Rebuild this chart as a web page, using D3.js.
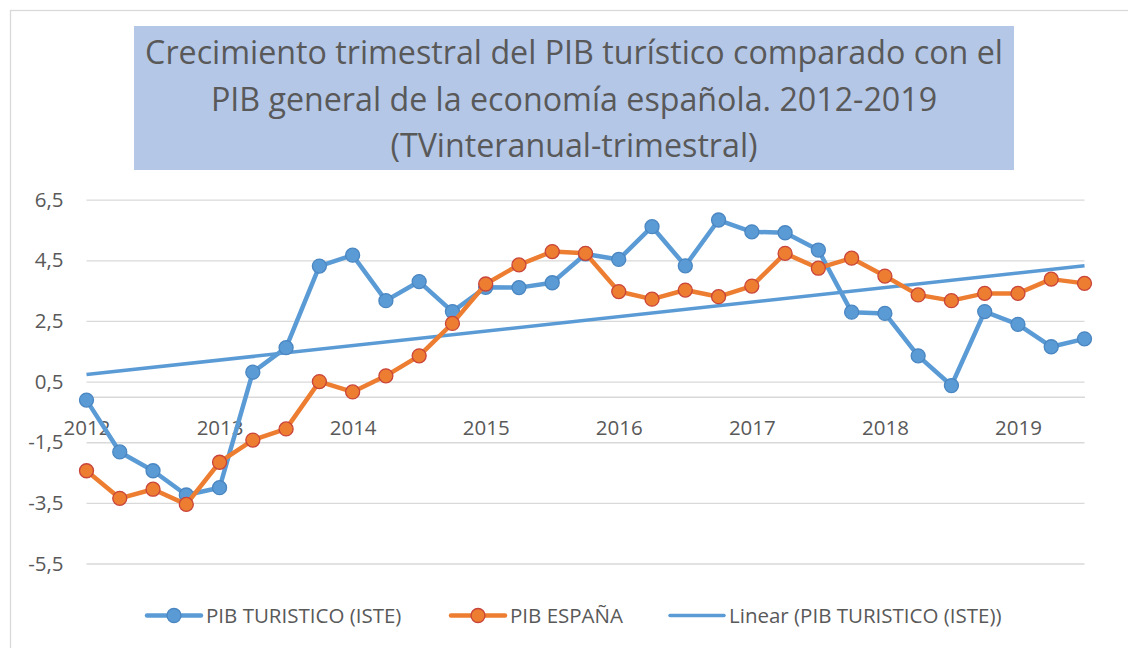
<!DOCTYPE html>
<html>
<head>
<meta charset="utf-8">
<script src="https://d3js.org/d3.v7.min.js"></script>
<style>
body { margin: 0; background: #fff; font-family: 'Open Sans', sans-serif; }
text { fill: #595959; }
.grid line { stroke: #d9d9d9; stroke-width: 1.3px; }
.grid path { stroke: none; }
.xaxis path { stroke: #d9d9d9; stroke-width: 1.3px; }
</style>
</head>
<body>
<script>
// trimestres 2012-T1 .. 2019-T3
var trimestres = ["2012-T1","2012-T2","2012-T3","2012-T4",
  "2013-T1","2013-T2","2013-T3","2013-T4",
  "2014-T1","2014-T2","2014-T3","2014-T4",
  "2015-T1","2015-T2","2015-T3","2015-T4",
  "2016-T1","2016-T2","2016-T3","2016-T4",
  "2017-T1","2017-T2","2017-T3","2017-T4",
  "2018-T1","2018-T2","2018-T3","2018-T4",
  "2019-T1","2019-T2","2019-T3"];

var pibTuristico = [-0.11, -1.82, -2.44, -3.24,
  -3.0, 0.81, 1.62, 4.31,
  4.67, 3.17, 3.8, 2.81,
  3.61, 3.6, 3.76, 4.71,
  4.53, 5.61, 4.32, 5.83,
  5.44, 5.41, 4.84, 2.79,
  2.75, 1.35, 0.37, 2.81,
  2.39, 1.65, 1.91];

var pibEspana = [-2.44, -3.35, -3.05, -3.55,
  -2.16, -1.43, -1.06, 0.5,
  0.16, 0.69, 1.35, 2.42,
  3.72, 4.35, 4.79, 4.73,
  3.47, 3.22, 3.52, 3.3,
  3.65, 4.73, 4.24, 4.57,
  3.98, 3.36, 3.17, 3.41,
  3.41, 3.88, 3.74];

var ticksY = [6.5, 4.5, 2.5, 0.5, -1.5, -3.5, -5.5];
var anios = ["2012","2013","2014","2015","2016","2017","2018","2019"];

var titulo = ["Crecimiento trimestral del PIB turístico comparado con el",
  "PIB general de la economía española. 2012-2019",
  "(TVinteranual-trimestral)"];

var nombres = ["PIB TURISTICO (ISTE)", "PIB ESPAÑA", "Linear (PIB TURISTICO (ISTE))"];

var azul = "#5b9bd5", azulBorde = "#4a86c1";
var naranja = "#ed7d31", naranjaBorde = "#c9443a";

var svg = d3.select("body").append("svg")
  .attr("width", 1128)
  .attr("height", 648);

// marco del gráfico
svg.append("rect")
  .attr("x", 10.5).attr("y", 10.5)
  .attr("width", 1140).attr("height", 660)
  .attr("fill", "none").attr("stroke", "#d9d9d9").attr("stroke-width", 1.3);

// caja del título
svg.append("rect")
  .attr("x", 134).attr("y", 26)
  .attr("width", 880).attr("height", 144)
  .attr("fill", "#b4c7e7");

var tituloG = svg.append("g");
tituloG.selectAll("text")
  .data(titulo)
  .enter().append("text")
  .attr("x", 574)
  .attr("y", function(d, i) { return 64 + i * 46.5; })
  .attr("text-anchor", "middle")
  .style("font-size", "28px")
  .text(function(d) { return d; });
// ajustar tamaño al ancho de la primera linea
var w0 = tituloG.select("text").node().getComputedTextLength();
tituloG.selectAll("text").style("font-size", (28 * 858 / w0) + "px");

//scales
var x = d3.scalePoint()
  .domain(trimestres)
  .range([86.5, 1084.5]);

var y = d3.scaleLinear()
  .domain([-5.5, 6.5])
  .range([563.5, 199.7]);

function coma(d) { return String(d).replace(".", ","); }

// grid + eje y
svg.append("g")
  .attr("class", "grid")
  .attr("transform", "translate(86.5,0)")
  .call(d3.axisLeft(y)
    .tickValues(ticksY)
    .tickSize(-998)
    .tickPadding(23)
    .tickFormat(coma))
  .selectAll("text")
  .style("font-size", "20.5px")
  .style("font-family", "'Open Sans', sans-serif")
  .attr("fill", "#595959");

// eje x en 0
var xAxis = svg.append("g")
  .attr("class", "xaxis")
  .attr("transform", "translate(0," + y(0) + ")")
  .call(d3.axisBottom(x)
    .tickValues(trimestres.filter(function(d, i) { return i % 4 == 0; }))
    .tickSize(0)
    .tickPadding(24)
    .tickFormat(function(d) { return d.slice(0, 4); }));
xAxis.selectAll("text")
  .style("font-size", "20.5px")
  .style("font-family", "'Open Sans', sans-serif")
  .attr("fill", "#595959");

// tendencia lineal (minimos cuadrados, como Excel)
var n = pibTuristico.length;
var mx = d3.mean(d3.range(n)), my = d3.mean(pibTuristico);
var sxy = d3.sum(pibTuristico, function(v, i) { return (i - mx) * (v - my); });
var sxx = d3.sum(d3.range(n), function(i) { return (i - mx) * (i - mx); });
var pend = sxy / sxx, orig = my - pend * mx;

svg.append("line")
  .attr("x1", x(trimestres[0])).attr("y1", y(orig))
  .attr("x2", x(trimestres[n - 1])).attr("y2", y(orig + pend * (n - 1)))
  .attr("stroke", azul).attr("stroke-width", 3.5);

var linea = d3.line()
  .x(function(d, i) { return x(trimestres[i]); })
  .y(function(d) { return y(d); });

function dibujarSerie(datos, color, borde) {
  svg.append("path")
    .datum(datos)
    .attr("d", linea)
    .attr("fill", "none")
    .attr("stroke", color)
    .attr("stroke-width", 4.5)
    .attr("stroke-linejoin", "round");
  svg.append("g").selectAll("circle")
    .data(datos)
    .enter().append("circle")
    .attr("cx", function(d, i) { return x(trimestres[i]); })
    .attr("cy", function(d) { return y(d); })
    .attr("r", 7)
    .attr("fill", color)
    .attr("stroke", borde)
    .attr("stroke-width", 1.3);
}

dibujarSerie(pibTuristico, azul, azulBorde);
dibujarSerie(pibEspana, naranja, naranjaBorde);

// leyenda
var leyenda = [
  {x: 147, color: azul, borde: azulBorde, marker: true},
  {x: 451, color: naranja, borde: naranjaBorde, marker: true},
  {x: 670, color: azul, borde: azulBorde, marker: false}
];
var ly = 615.5;
var items = svg.append("g").selectAll("g")
  .data(leyenda)
  .enter().append("g")
  .attr("transform", function(d) { return "translate(" + d.x + "," + ly + ")"; });
items.append("line")
  .attr("x1", 0).attr("x2", 54)
  .attr("stroke", function(d) { return d.color; })
  .attr("stroke-width", function(d) { return d.marker ? 4.5 : 3.5; })
  .attr("stroke-linecap", "round");
items.filter(function(d) { return d.marker; }).append("circle")
  .attr("cx", 27).attr("r", 7)
  .attr("fill", function(d) { return d.color; })
  .attr("stroke", function(d) { return d.borde; })
  .attr("stroke-width", 1.3);
items.append("text")
  .attr("x", 59)
  .attr("dy", "0.36em")
  .style("font-size", "20.5px")
  .text(function(d, i) { return nombres[i]; });
</script>
</body>
</html>
